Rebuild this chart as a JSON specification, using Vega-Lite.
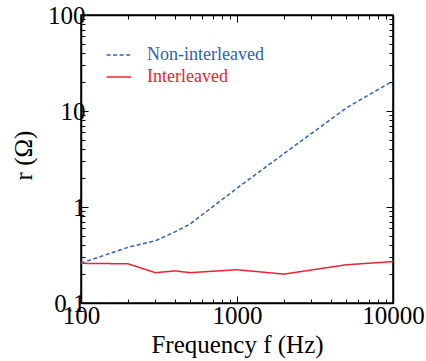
{
  "$schema": "https://vega.github.io/schema/vega-lite/v6.json",
  "width": 312,
  "height": 288,
  "autosize": "none",
  "padding": {"left": 81, "top": 15, "right": 33, "bottom": 58},
  "background": "white",
  "config": {
    "font": "Liberation Serif",
    "view": {"stroke": "black", "strokeWidth": 1.5},
    "legend": {"labelFont": "Liberation Serif", "labelFontSize": 18},
    "axis": {
      "grid": false,
      "domainColor": "black",
      "domainWidth": 1.5,
      "tickColor": "black",
      "tickWidth": 1,
      "labelColor": "black",
      "labelFont": "Liberation Serif",
      "labelFontSize": 25,
      "titleFont": "Liberation Serif",
      "titleFontSize": 25,
      "titleFontWeight": "normal",
      "titleColor": "black",
      "labelOverlap": false,
      "labelFlush": false,
      "labelBound": false
    }
  },
  "data": {
    "values": [
      {"f": 100, "r": 0.26, "s": "Non-interleaved"},
      {"f": 200, "r": 0.38, "s": "Non-interleaved"},
      {"f": 300, "r": 0.445, "s": "Non-interleaved"},
      {"f": 400, "r": 0.55, "s": "Non-interleaved"},
      {"f": 500, "r": 0.665, "s": "Non-interleaved"},
      {"f": 1000, "r": 1.57, "s": "Non-interleaved"},
      {"f": 2000, "r": 3.6, "s": "Non-interleaved"},
      {"f": 5000, "r": 10.7, "s": "Non-interleaved"},
      {"f": 10000, "r": 20.5, "s": "Non-interleaved"},
      {"f": 100, "r": 0.259, "s": "Interleaved"},
      {"f": 200, "r": 0.256, "s": "Interleaved"},
      {"f": 300, "r": 0.207, "s": "Interleaved"},
      {"f": 400, "r": 0.216, "s": "Interleaved"},
      {"f": 500, "r": 0.207, "s": "Interleaved"},
      {"f": 1000, "r": 0.222, "s": "Interleaved"},
      {"f": 2000, "r": 0.2, "s": "Interleaved"},
      {"f": 5000, "r": 0.25, "s": "Interleaved"},
      {"f": 10000, "r": 0.27, "s": "Interleaved"}
    ]
  },
  "layer": [
    {
      "mark": {"type": "line", "strokeWidth": 1.5, "clip": true},
      "encoding": {
        "x": {
          "field": "f", "type": "quantitative",
          "scale": {"type": "log", "domain": [100, 10000], "nice": false},
          "axis": {
            "orient": "bottom",
            "title": "Frequency  f (Hz)",
            "titlePadding": 1,
            "values": [100,200,300,400,500,600,700,800,900,1000,2000,3000,4000,5000,6000,7000,8000,9000,10000],
            "labelExpr": "datum.value == 100 || datum.value == 1000 || datum.value == 10000 ? format(datum.value, 'd') : ''",
            "tickSize": {"condition": {"test": "datum.value == 100 || datum.value == 1000 || datum.value == 10000", "value": -7}, "value": -4},
            "labelPadding": 7
          }
        },
        "y": {
          "field": "r", "type": "quantitative",
          "scale": {"type": "log", "domain": [0.1, 100], "nice": false},
          "axis": {
            "orient": "left",
            "title": "r  (Ω)",
            "titleX": -58,
            "titleY": 140,
            "titleAngle": 270,
            "titleAlign": "center",
            "titleBaseline": "middle",
            "values": [0.1,0.2,0.3,0.4,0.5,0.6,0.7,0.8,0.9,1,2,3,4,5,6,7,8,9,10,20,30,40,50,60,70,80,90,100],
            "labelExpr": "datum.value == 0.1 || datum.value == 1 || datum.value == 10 || datum.value == 100 ? format(datum.value, '~g') : ''",
            "tickSize": {"condition": {"test": "datum.value == 0.1 || datum.value == 1 || datum.value == 10 || datum.value == 100", "value": -7}, "value": -4},
            "labelPadding": 3
          }
        },
        "color": {
          "field": "s", "type": "nominal",
          "scale": {"domain": ["Non-interleaved", "Interleaved"], "range": ["#3060b8", "#ee2230"]},
          "legend": {
            "orient": "none",
            "legendX": 29,
            "legendY": 31,
            "title": null,
            "symbolType": "M-1.5,0H1.5",
            "symbolSize": 272,
            "symbolStrokeWidth": 1.5,
            "symbolFillColor": "transparent",
            "labelFont": "Liberation Serif",
            "labelFontSize": 18,
            "labelOffset": 19,
            "rowPadding": 4,
            "encode": {
              "labels": {"update": {"fill": {"signal": "datum.value == 'Interleaved' ? '#ee2230' : '#3060b8'"}}}
            }
          }
        },
        "strokeDash": {
          "field": "s", "type": "nominal",
          "scale": {"domain": ["Non-interleaved", "Interleaved"], "range": [[4, 2.5], [1, 0]]},
          "legend": {
            "orient": "none",
            "legendX": 29,
            "legendY": 31,
            "title": null,
            "symbolType": "M-1.5,0H1.5",
            "symbolSize": 272,
            "symbolStrokeWidth": 1.5,
            "symbolFillColor": "transparent",
            "labelFont": "Liberation Serif",
            "labelFontSize": 18,
            "labelOffset": 19,
            "rowPadding": 4,
            "encode": {
              "labels": {"update": {"fill": {"signal": "datum.value == 'Interleaved' ? '#ee2230' : '#3060b8'"}}}
            }
          }
        }
      }
    },
    {
      "mark": {"type": "line", "opacity": 0},
      "encoding": {
        "x": {
          "field": "f", "type": "quantitative",
          "axis": {
            "orient": "top",
            "title": null,
            "labels": false,
            "values": [100,200,300,400,500,600,700,800,900,1000,2000,3000,4000,5000,6000,7000,8000,9000,10000],
            "tickSize": {"condition": {"test": "datum.value == 100 || datum.value == 1000 || datum.value == 10000", "value": -7}, "value": -4}
          }
        },
        "y": {
          "field": "r", "type": "quantitative",
          "axis": {
            "orient": "right",
            "title": null,
            "labels": false,
            "values": [0.1,0.2,0.3,0.4,0.5,0.6,0.7,0.8,0.9,1,2,3,4,5,6,7,8,9,10,20,30,40,50,60,70,80,90,100],
            "tickSize": {"condition": {"test": "datum.value == 0.1 || datum.value == 1 || datum.value == 10 || datum.value == 100", "value": -7}, "value": -4}
          }
        },
        "detail": {"field": "s", "type": "nominal"}
      }
    }
  ],
  "resolve": {"axis": {"x": "independent", "y": "independent"}}
}
